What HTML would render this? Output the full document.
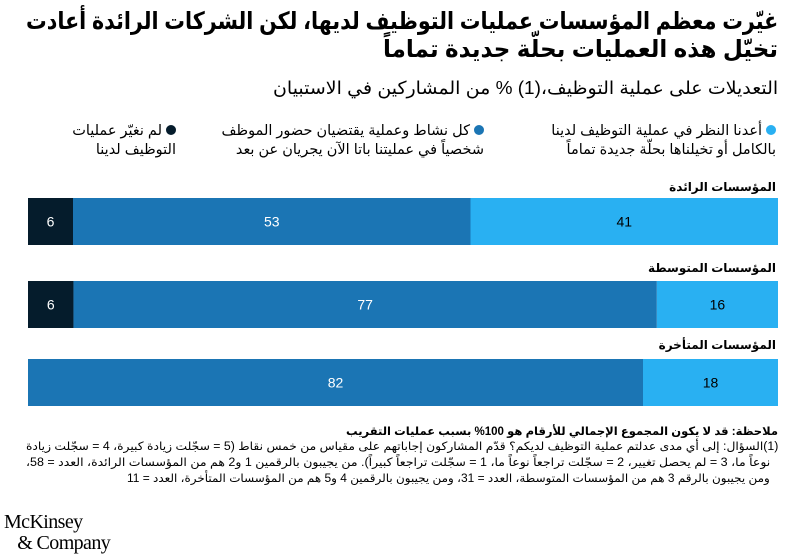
<!DOCTYPE html>
<html lang="ar" dir="rtl"><head><meta charset="utf-8">
<style>
body{margin:0;width:804px;height:557px;background:#fff;font-family:"Liberation Sans","Noto Sans CJK SC","DejaVu Sans",sans-serif;color:#000;position:relative;overflow:hidden}
.abs{position:absolute}
.fit{position:absolute;right:0;white-space:nowrap;transform-origin:right center}
.title{position:absolute;right:26px;top:7px;width:752px;height:56px;font-weight:bold;font-size:24px}
.sub{position:absolute;right:26px;top:78px;width:505px;height:24px;font-size:18px}
.leg{top:122px;font-size:14.5px;line-height:19px;text-align:right}
.dot{display:inline-block;width:10px;height:10px;border-radius:50%;margin-left:4px}
.cat{right:28px;font-size:12px;font-weight:bold}
.note{position:absolute;right:26px;top:424px;width:752px;height:64px;font-size:11.5px}
.logo{left:4px;top:512px;font-family:"Liberation Serif",serif;font-size:20px;line-height:21px;direction:ltr;text-align:left;letter-spacing:-0.6px}
</style></head><body>
<div class="title">
<div class="fit" style="top:0" data-fitw="752">غيّرت معظم المؤسسات عمليات التوظيف لديها، لكن الشركات الرائدة أعادت</div>
<div class="fit" style="top:28px" data-fitw="395">تخيّل هذه العمليات بحلّة جديدة تماماً</div>
</div>
<div class="sub"><div class="fit" style="top:0" data-fitw="505">التعديلات على عملية التوظيف،(1) % من المشاركين في الاستبيان</div></div>
<div class="abs leg" style="right:28px"><span class="dot" style="background:#29b0f2"></span>أعدنا النظر في عملية التوظيف لدينا<br>بالكامل أو تخيلناها بحلّة جديدة تماماً</div>
<div class="abs leg" style="right:320px"><span class="dot" style="background:#1b75b4"></span>كل نشاط وعملية يقتضيان حضور الموظف<br>شخصياً في عمليتنا باتا الآن يجريان عن بعد</div>
<div class="abs leg" style="right:628px"><span class="dot" style="background:#051c2c"></span>لم نغيّر عمليات<br>التوظيف لدينا</div>
<div class="abs cat" style="top:180px">المؤسسات الرائدة</div>
<div class="abs cat" style="top:261px">المؤسسات المتوسطة</div>
<div class="abs cat" style="top:338px">المؤسسات المتأخرة</div>
<svg class="abs" style="left:0;top:0" width="804" height="557" id="chart"></svg>
<div class="note">
<div class="fit" style="top:0;font-weight:bold" data-fitw="432">ملاحظة: قد لا يكون المجموع الإجمالي للأرقام هو 100% بسبب عمليات التقريب</div>
<div class="fit" style="top:15px" data-fitw="752">(1)السؤال: إلى أي مدى عدلتم عملية التوظيف لديكم؟ قدّم المشاركون إجاباتهم على مقياس من خمس نقاط (5 = سجّلت زيادة كبيرة، 4 = سجّلت زيادة</div>
<div class="fit" style="top:31px;right:8px" data-fitw="744">نوعاً ما، 3 = لم يحصل تغيير، 2 = سجّلت تراجعاً نوعاً ما، 1 = سجّلت تراجعاً كبيراً). من يجيبون بالرقمين 1 و2 هم من المؤسسات الرائدة، العدد = 58،</div>
<div class="fit" style="top:47px;right:8px" data-fitw="643">ومن يجيبون بالرقم 3 هم من المؤسسات المتوسطة، العدد = 31، ومن يجيبون بالرقمين 4 و5 هم من المؤسسات المتأخرة، العدد = 11</div>
</div>
<div class="abs logo">McKinsey<br>&nbsp;&nbsp;&nbsp;&amp; Company</div>
<script>
const categories=["leaders","middle","laggards"];
const reimagined=[41,16,18];
const remote=[53,77,82];
const unchanged=[6,6,0];
document.querySelectorAll('[data-fitw]').forEach(el=>{
  const w=el.scrollWidth, t=+el.getAttribute('data-fitw');
  el.style.transform='scaleX('+(t/w)+')';
});
const svg=document.getElementById('chart');
const NS='http://www.w3.org/2000/svg';
const x0=28,x1=778;
const rowTop=[198,281,359],barH=47;
const series=[{vals:reimagined,c:'#29b0f2',t:'#000',n:'reimagined'},{vals:remote,c:'#1b75b4',t:'#fff',n:'remote'},{vals:unchanged,c:'#051c2c',t:'#fff',n:'unchanged'}];
categories.forEach((cat,i)=>{
  const tot=reimagined[i]+remote[i]+unchanged[i];
  const xs=v=>v/tot*(x1-x0);
  let right=x1;
  series.forEach(s=>{
    const v=s.vals[i]; if(!v) return;
    const w=xs(v);
    const r=document.createElementNS(NS,'rect');
    r.setAttribute('x',right-w);r.setAttribute('y',rowTop[i]);r.setAttribute('width',w);r.setAttribute('height',barH);r.setAttribute('fill',s.c);
    
    
    svg.appendChild(r);
    const t=document.createElementNS(NS,'text');
    t.setAttribute('x',right-w/2);t.setAttribute('y',rowTop[i]+barH/2+5);t.setAttribute('text-anchor','middle');
    t.setAttribute('font-size','14');t.setAttribute('fill',s.t);t.setAttribute('font-family','Liberation Sans, sans-serif');
    t.textContent=v;
    
    
    svg.appendChild(t);
    right-=w;
  });
});
</script>
</body></html>
